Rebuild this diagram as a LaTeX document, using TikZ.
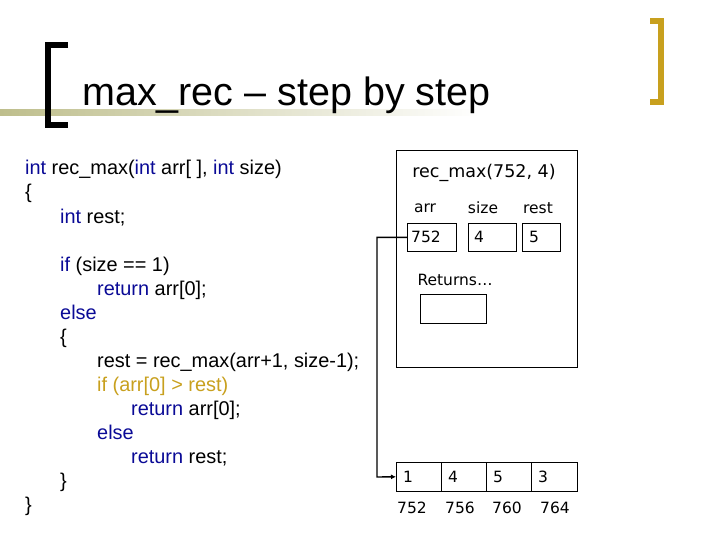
\documentclass[tikz,border=0pt]{standalone}
\usepackage{fontspec}
\setmainfont{Liberation Sans}
\newfontfamily\tah{DejaVu Sans}
\usetikzlibrary{arrows.meta}
\definecolor{kw}{RGB}{10,10,150}
\definecolor{gold}{RGB}{200,160,30}
\definecolor{olive}{RGB}{190,190,140}
\begin{document}
\begin{tikzpicture}[x=1pt,y=-1pt,
  code/.style={anchor=base west,inner sep=0pt,font=\fontsize{19.9}{22}\selectfont},
  cell/.style={draw,semithick,minimum height=28pt,anchor=north west,inner sep=0pt},
  lbl/.style={font=\tah\fontsize{15.5}{18}\selectfont,inner sep=0pt},
  val/.style={font=\tah\fontsize{15.5}{18}\selectfont,inner sep=0pt,anchor=west}]
\useasboundingbox (0,0) rectangle (720,540);
% title decoration
\shade[left color=olive,right color=white] (0,110) rectangle (480,116);
\draw[line width=6pt] (68,45) -- (48,45) -- (48,125) -- (68,125);
\draw[line width=6pt,gold] (650,21) -- (661,21) -- (661,102) -- (650,102);
\node[anchor=base west,inner sep=0pt,font=\fontsize{39.5}{44}\selectfont] (title) at (82,106) {max\_rec – step by step};
% code
\node[code] (c1) at (25,175) {\textcolor{kw}{int} rec\_max(\textcolor{kw}{int} arr[ ], \textcolor{kw}{int} size)};
\node[code] (c2) at (25,199) {\{};
\node[code] (c3) at (60,223) {\textcolor{kw}{int} rest;};
\node[code] (c4) at (60,271) {\textcolor{kw}{if} (size == 1)};
\node[code] (c5) at (97,295) {\textcolor{kw}{return} arr[0];};
\node[code] (c6) at (60,319) {\textcolor{kw}{else}};
\node[code] (c7) at (60,343) {\{};
\node[code] (c8) at (97,367) {rest = rec\_max(arr+1, size-1);};
\node[code] (c9) at (97,391) {\textcolor{gold}{if (arr[0] > rest)}};
\node[code] (c10) at (131,415) {\textcolor{kw}{return} arr[0];};
\node[code] (c11) at (97,439) {\textcolor{kw}{else}};
\node[code] (c12) at (131,463) {\textcolor{kw}{return} rest;};
\node[code] (c13) at (60,487) {\}};
\node[code] (c14) at (25,511) {\}};
% frame
\node[draw,semithick,anchor=north west,minimum width=181pt,minimum height=217pt,inner sep=0pt] (frame) at (396,150) {};
\node[font=\tah\fontsize{17.5}{20}\selectfont,inner sep=0pt] (ft) at (484,173) {rec\_max(752, 4)};
\node[lbl] (la) at (425,208) {arr};
\node[lbl] (ls) at (483,208) {size};
\node[lbl] (lr) at (538,208) {rest};
\node[cell,minimum width=49pt] (b1) at (407,223) {};
\node[val] at ([xshift=4pt]b1.west) {752};
\node[cell,minimum width=48pt] (b2) at (468,223) {};
\node[val] at ([xshift=6pt]b2.west) {4};
\node[cell,minimum width=38pt] (b3) at (522,223) {};
\node[val] at ([xshift=7pt]b3.west) {5};
\node[lbl] (ret) at (455,280) {Returns…};
\node[cell,minimum width=66pt,minimum height=29pt] (rb) at (420,294) {};
% array
\node[cell,minimum width=45pt,minimum height=29pt] (a1) at (396,462) {};
\node[cell,minimum width=45pt,minimum height=29pt] (a2) at (441,462) {};
\node[cell,minimum width=45pt,minimum height=29pt] (a3) at (486,462) {};
\node[cell,minimum width=46pt,minimum height=29pt] (a4) at (531,462) {};
\node[val] at ([xshift=7pt]a1.west) {1};
\node[val] at ([xshift=7pt]a2.west) {4};
\node[val] at ([xshift=7pt]a3.west) {5};
\node[val] at ([xshift=7pt]a4.west) {3};
\node[lbl] at (412,508) {752};
\node[lbl] at (460,508) {756};
\node[lbl] at (507,508) {760};
\node[lbl] at (555,508) {764};
\draw[line width=1.4pt,-{Latex[length=5pt,width=5pt]}] (b1.west) -| (377,477) -- (a1.west);
\end{tikzpicture}
\end{document}
